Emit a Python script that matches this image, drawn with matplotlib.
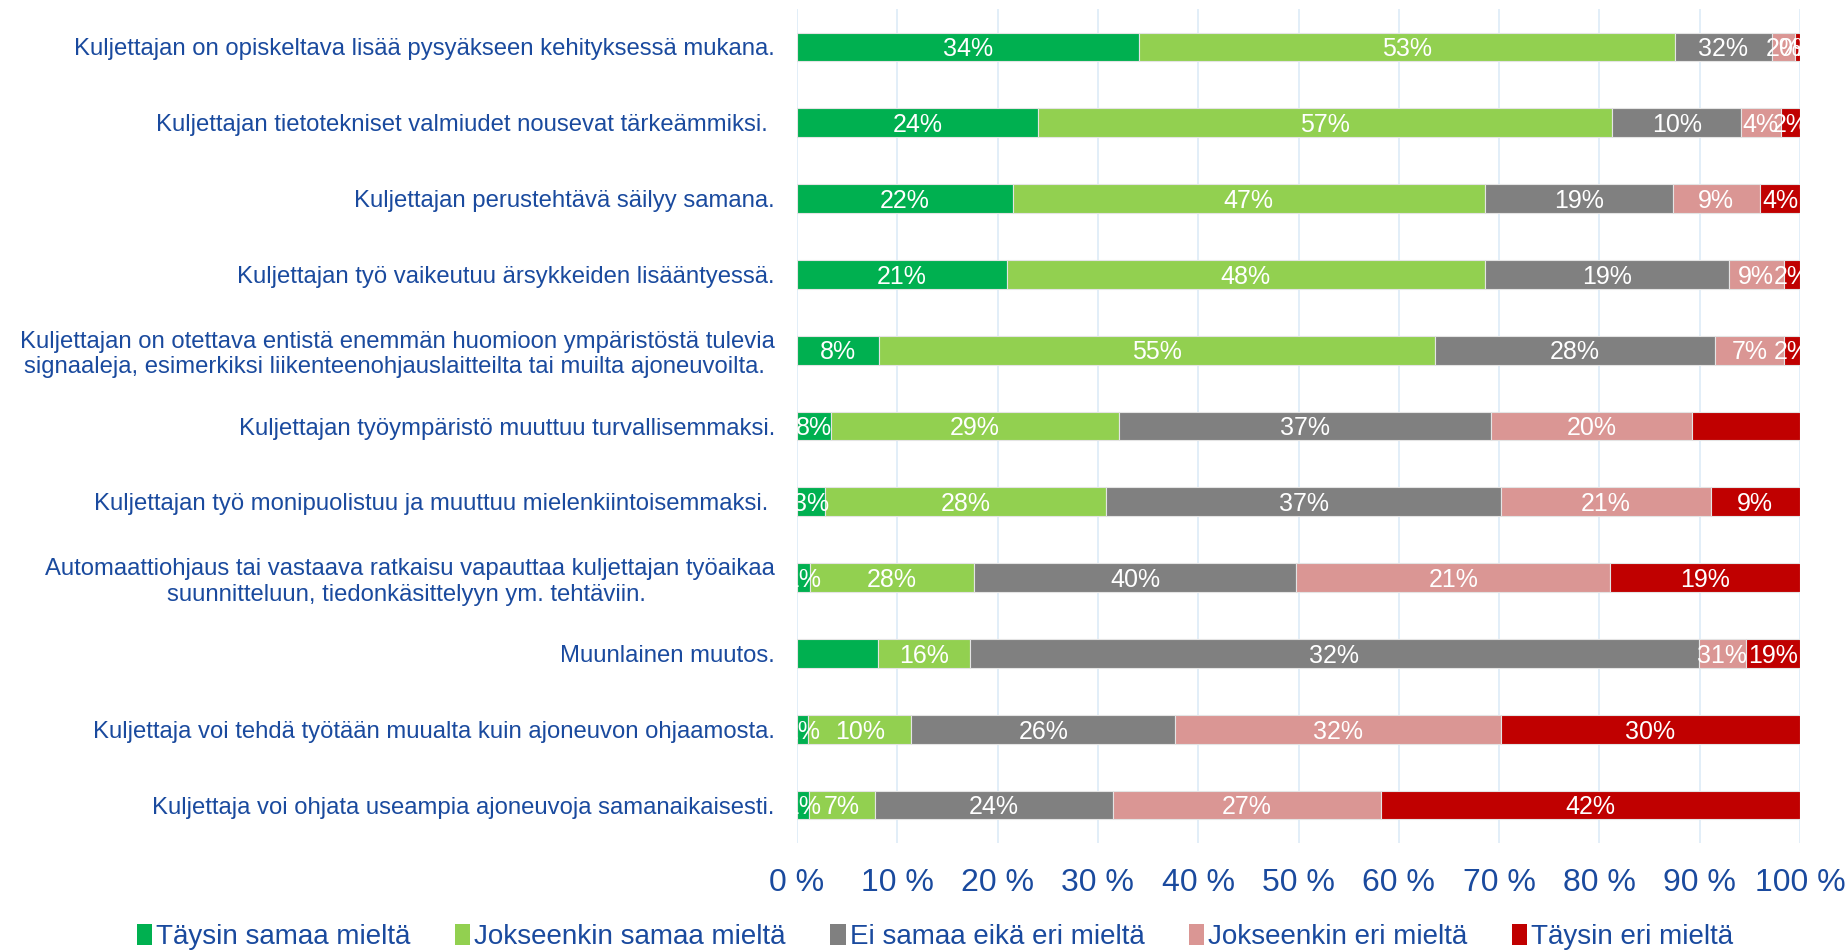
import matplotlib
matplotlib.use("Agg")
import matplotlib.pyplot as plt
from matplotlib.patches import Patch

plt.rcParams['font.family'] = ['Liberation Sans', 'DejaVu Sans']

# kysymykset (ylhäältä alas)
kysymykset = [
    "Kuljettajan on opiskeltava lisää pysyäkseen kehityksessä mukana.",
    "Kuljettajan tietotekniset valmiudet nousevat tärkeämmiksi. ",
    "Kuljettajan perustehtävä säilyy samana.",
    "Kuljettajan työ vaikeutuu ärsykkeiden lisääntyessä.",
    "Kuljettajan on otettava entistä enemmän huomioon ympäristöstä tulevia\nsignaaleja, esimerkiksi liikenteenohjauslaitteilta tai muilta ajoneuvoilta. ",
    "Kuljettajan työympäristö muuttuu turvallisemmaksi.",
    "Kuljettajan työ monipuolistuu ja muuttuu mielenkiintoisemmaksi. ",
    "Automaattiohjaus tai vastaava ratkaisu vapauttaa kuljettajan työaikaa\nsuunnitteluun, tiedonkäsittelyyn ym. tehtäviin. ",
    "Muunlainen muutos.",
    "Kuljettaja voi tehdä työtään muualta kuin ajoneuvon ohjaamosta.",
    "Kuljettaja voi ohjata useampia ajoneuvoja samanaikaisesti.",
]

sarjat = ["Täysin samaa mieltä", "Jokseenkin samaa mieltä", "Ei samaa eikä eri mieltä",
          "Jokseenkin eri mieltä", "Täysin eri mieltä"]
varit = ["#00B050", "#92D050", "#808080", "#DA9694", "#C00000"]

# palkkien leveydet (%), luettu kuvasta
taysin_samaa = [34.1, 24.0, 21.5, 20.9, 8.2, 3.4, 2.8, 1.3, 8.1, 1.1, 1.2]
jokseenkin_samaa = [53.4, 57.3, 47.1, 47.7, 55.4, 28.7, 28.0, 16.3, 9.1, 10.3, 6.6]
ei_samaa_eika_eri = [9.7, 12.8, 18.7, 24.3, 27.9, 37.1, 39.4, 32.2, 72.7, 26.3, 23.7]
jokseenkin_eri = [2.3, 4.0, 8.7, 5.5, 6.9, 20.0, 20.9, 31.3, 4.7, 32.5, 26.7]
taysin_eri = [0.5, 1.9, 4.0, 1.6, 1.6, 10.8, 8.9, 18.9, 5.4, 29.8, 41.8]

# palkkien tekstit
tekstit = [
    ["34%", "53%", "32%", "2%", "0%"],
    ["24%", "57%", "10%", "4%", "2%"],
    ["22%", "47%", "19%", "9%", "4%"],
    ["21%", "48%", "19%", "9%", "2%"],
    ["8%", "55%", "28%", "7%", "2%"],
    ["8%", "29%", "37%", "20%", ""],
    ["3%", "28%", "37%", "21%", "9%"],
    ["1%", "28%", "40%", "21%", "19%"],
    ["", "16%", "32%", "31%", "19%"],
    ["1%", "10%", "26%", "32%", "30%"],
    ["1%", "7%", "24%", "27%", "42%"],
]

tekstivari = "#1A4A9E"
data = [taysin_samaa, jokseenkin_samaa, ei_samaa_eika_eri, jokseenkin_eri, taysin_eri]

fig = plt.figure(figsize=(18.48, 9.5), dpi=100)
ax = fig.add_axes([797/1848, 1 - 843/950, (1800 - 797)/1848, (843 - 9)/950])

y = list(range(len(kysymykset)))
vasen = [0.0] * len(kysymykset)
for s, (arvot, vari) in enumerate(zip(data, varit)):
    ax.barh(y, arvot, left=vasen, height=0.38, color=vari, edgecolor="#E4E4E4",
            linewidth=0.8, zorder=2)
    for i, v in enumerate(arvot):
        t = tekstit[i][s]
        if t:
            ax.text(vasen[i] + v / 2, i + 0.03, t, ha="center", va="center", color="white",
                    fontsize=18, clip_on=True, zorder=3)
    vasen = [a + b for a, b in zip(vasen, arvot)]

ax.set_xlim(0, 100)
ax.set_ylim(len(kysymykset) - 0.5, -0.5)
ax.set_yticks(y)
ax.set_yticklabels(kysymykset, fontsize=17.2, color=tekstivari, multialignment="center")
ax.set_xticks(range(0, 101, 10))
ax.set_xticklabels([f"{x} %" for x in range(0, 101, 10)], fontsize=23, color=tekstivari)
ax.tick_params(axis="y", length=0, pad=16)
ax.tick_params(axis="x", length=0, pad=18)
ax.grid(axis="x", color="#DDEBF7", linewidth=1.2, zorder=0)
ax.set_axisbelow(True)
for sp in ax.spines.values():
    sp.set_visible(False)

kahvat = [Patch(facecolor=c, edgecolor="none") for c in varit]
fig.legend(kahvat, sarjat, loc="center", bbox_to_anchor=(0.506, 0.014), ncol=5,
           frameon=False, fontsize=20, handlelength=0.55, handleheight=0.8,
           handletextpad=0.15, columnspacing=1.6, labelcolor=tekstivari)

fig.savefig("out.png", dpi=100)
